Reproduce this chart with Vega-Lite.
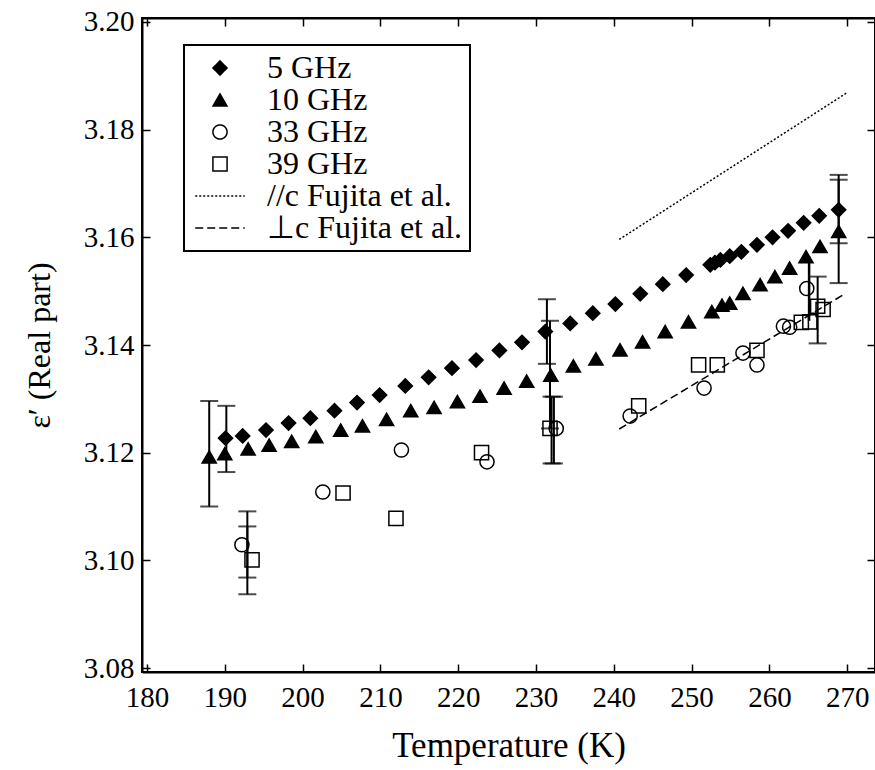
{
  "$schema": "https://vega.github.io/schema/vega-lite/v6.json",
  "width": 733,
  "height": 654,
  "autosize": {"type": "none"},
  "padding": {"left": 142, "top": 18, "right": 0, "bottom": 98},
  "background": "white",
  "datasets": {
    "pts": [
      {"series": "5 GHz", "T": 190.1, "v": 3.1227},
      {"series": "5 GHz", "T": 192.3, "v": 3.1231},
      {"series": "5 GHz", "T": 195.3, "v": 3.1242},
      {"series": "5 GHz", "T": 198.2, "v": 3.1255},
      {"series": "5 GHz", "T": 201.0, "v": 3.1264},
      {"series": "5 GHz", "T": 204.1, "v": 3.1278},
      {"series": "5 GHz", "T": 207.0, "v": 3.1293},
      {"series": "5 GHz", "T": 209.9, "v": 3.1307},
      {"series": "5 GHz", "T": 213.2, "v": 3.1324},
      {"series": "5 GHz", "T": 216.2, "v": 3.1340},
      {"series": "5 GHz", "T": 219.2, "v": 3.1357},
      {"series": "5 GHz", "T": 222.3, "v": 3.1372},
      {"series": "5 GHz", "T": 225.3, "v": 3.1390},
      {"series": "5 GHz", "T": 228.2, "v": 3.1405},
      {"series": "5 GHz", "T": 231.2, "v": 3.1425},
      {"series": "5 GHz", "T": 234.4, "v": 3.1440},
      {"series": "5 GHz", "T": 237.3, "v": 3.1459},
      {"series": "5 GHz", "T": 240.2, "v": 3.1476},
      {"series": "5 GHz", "T": 243.4, "v": 3.1495},
      {"series": "5 GHz", "T": 246.3, "v": 3.1513},
      {"series": "5 GHz", "T": 249.3, "v": 3.1530},
      {"series": "5 GHz", "T": 252.4, "v": 3.1549},
      {"series": "5 GHz", "T": 253.0, "v": 3.1553},
      {"series": "5 GHz", "T": 253.7, "v": 3.1558},
      {"series": "5 GHz", "T": 254.9, "v": 3.1565},
      {"series": "5 GHz", "T": 256.4, "v": 3.1573},
      {"series": "5 GHz", "T": 258.4, "v": 3.1586},
      {"series": "5 GHz", "T": 260.4, "v": 3.1600},
      {"series": "5 GHz", "T": 262.4, "v": 3.1612},
      {"series": "5 GHz", "T": 264.4, "v": 3.1627},
      {"series": "5 GHz", "T": 266.4, "v": 3.1640},
      {"series": "5 GHz", "T": 268.9, "v": 3.1651},
      {"series": "10 GHz", "T": 188.0, "v": 3.1192},
      {"series": "10 GHz", "T": 190.0, "v": 3.1198},
      {"series": "10 GHz", "T": 193.0, "v": 3.1207},
      {"series": "10 GHz", "T": 195.7, "v": 3.1214},
      {"series": "10 GHz", "T": 198.6, "v": 3.1221},
      {"series": "10 GHz", "T": 201.7, "v": 3.1230},
      {"series": "10 GHz", "T": 204.9, "v": 3.1242},
      {"series": "10 GHz", "T": 207.7, "v": 3.1250},
      {"series": "10 GHz", "T": 210.8, "v": 3.1262},
      {"series": "10 GHz", "T": 213.9, "v": 3.1278},
      {"series": "10 GHz", "T": 216.9, "v": 3.1284},
      {"series": "10 GHz", "T": 219.9, "v": 3.1295},
      {"series": "10 GHz", "T": 222.8, "v": 3.1305},
      {"series": "10 GHz", "T": 225.9, "v": 3.1320},
      {"series": "10 GHz", "T": 228.8, "v": 3.1333},
      {"series": "10 GHz", "T": 231.9, "v": 3.1344},
      {"series": "10 GHz", "T": 234.8, "v": 3.1361},
      {"series": "10 GHz", "T": 237.7, "v": 3.1374},
      {"series": "10 GHz", "T": 240.8, "v": 3.1391},
      {"series": "10 GHz", "T": 243.7, "v": 3.1406},
      {"series": "10 GHz", "T": 246.6, "v": 3.1425},
      {"series": "10 GHz", "T": 249.6, "v": 3.1443},
      {"series": "10 GHz", "T": 252.6, "v": 3.1462},
      {"series": "10 GHz", "T": 253.9, "v": 3.1474},
      {"series": "10 GHz", "T": 254.9, "v": 3.1478},
      {"series": "10 GHz", "T": 256.6, "v": 3.1496},
      {"series": "10 GHz", "T": 258.8, "v": 3.1512},
      {"series": "10 GHz", "T": 260.7, "v": 3.1527},
      {"series": "10 GHz", "T": 262.6, "v": 3.1543},
      {"series": "10 GHz", "T": 264.7, "v": 3.1564},
      {"series": "10 GHz", "T": 266.5, "v": 3.1583},
      {"series": "10 GHz", "T": 268.9, "v": 3.1611},
      {"series": "33 GHz", "T": 192.2, "v": 3.1029},
      {"series": "33 GHz", "T": 202.6, "v": 3.1127},
      {"series": "33 GHz", "T": 212.7, "v": 3.1205},
      {"series": "33 GHz", "T": 223.7, "v": 3.1183},
      {"series": "33 GHz", "T": 232.6, "v": 3.1245},
      {"series": "33 GHz", "T": 242.1, "v": 3.1268},
      {"series": "33 GHz", "T": 251.6, "v": 3.1320},
      {"series": "33 GHz", "T": 256.6, "v": 3.1385},
      {"series": "33 GHz", "T": 258.4, "v": 3.1363},
      {"series": "33 GHz", "T": 261.8, "v": 3.1435},
      {"series": "33 GHz", "T": 262.6, "v": 3.1433},
      {"series": "33 GHz", "T": 264.8, "v": 3.1505},
      {"series": "39 GHz", "T": 193.5, "v": 3.1001},
      {"series": "39 GHz", "T": 205.2, "v": 3.1125},
      {"series": "39 GHz", "T": 212.0, "v": 3.1078},
      {"series": "39 GHz", "T": 223.0, "v": 3.1200},
      {"series": "39 GHz", "T": 231.8, "v": 3.1245},
      {"series": "39 GHz", "T": 243.2, "v": 3.1287},
      {"series": "39 GHz", "T": 250.9, "v": 3.1363},
      {"series": "39 GHz", "T": 253.3, "v": 3.1363},
      {"series": "39 GHz", "T": 258.4, "v": 3.1390},
      {"series": "39 GHz", "T": 264.1, "v": 3.1442},
      {"series": "39 GHz", "T": 265.2, "v": 3.1443},
      {"series": "39 GHz", "T": 266.2, "v": 3.1472},
      {"series": "39 GHz", "T": 266.9, "v": 3.1466}
    ],
    "fujita": [
      {"series": "//c Fujita et al.", "T": 240.7, "v": 3.1596},
      {"series": "//c Fujita et al.", "T": 269.9, "v": 3.1868},
      {"series": "⊥c Fujita et al.", "T": 240.7, "v": 3.1244},
      {"series": "⊥c Fujita et al.", "T": 269.7, "v": 3.1495}
    ],
    "errs": [
      {"T": 188.0, "lo": 3.1100, "hi": 3.1296},
      {"T": 190.2, "lo": 3.1164, "hi": 3.1287},
      {"T": 192.9, "lo": 3.0968, "hi": 3.1091},
      {"T": 192.9, "lo": 3.0937, "hi": 3.1063},
      {"T": 231.4, "lo": 3.1365, "hi": 3.1485},
      {"T": 231.8, "lo": 3.1245, "hi": 3.1445},
      {"T": 232.0, "lo": 3.1180, "hi": 3.1304},
      {"T": 232.3, "lo": 3.1180, "hi": 3.1304},
      {"T": 266.2, "lo": 3.1403, "hi": 3.1527},
      {"T": 268.9, "lo": 3.1589, "hi": 3.1716},
      {"T": 268.9, "lo": 3.1515, "hi": 3.1707}
    ],
    "errsNoCap": [
      {"T": 265.1, "lo": 3.1445, "hi": 3.1565}
    ]
  },
  "layer": [
    {
      "data": {"name": "fujita"},
      "mark": {"type": "line", "color": "black"},
      "encoding": {
        "x": {"field": "T", "type": "quantitative",
              "scale": {"domain": [179.36, 273.57], "nice": false, "zero": false},
              "axis": {"orient": "top", "labels": false, "title": null, "values": [180, 190, 200, 210, 220, 230, 240, 250, 260, 270], "tickSize": -8, "grid": false}},
        "y": {"field": "v", "type": "quantitative",
              "scale": {"domain": [3.07926, 3.20074], "nice": false, "zero": false},
              "axis": {"orient": "right", "labels": false, "title": null, "values": [3.08, 3.10, 3.12, 3.14, 3.16, 3.18, 3.20], "tickSize": -8, "grid": false}},
        "strokeDash": {"field": "series", "type": "nominal",
              "scale": {"domain": ["5 GHz", "10 GHz", "33 GHz", "39 GHz", "//c Fujita et al.", "⊥c Fujita et al."],
                        "range": [[1, 0], [1, 0], [1, 0], [1, 0], [2, 2], [8, 4]]},
              "legend": {"title": null, "labelFont": "Liberation Serif", "labelFontSize": 32, "labelOffset": 31, "symbolOffset": 13,
                "encode": {"symbols": {"stroke": {"value": "black"}, "opacity": {"value": 1}}}}},
        "strokeWidth": {"field": "series", "type": "nominal",
              "scale": {"domain": ["5 GHz", "10 GHz", "33 GHz", "39 GHz", "//c Fujita et al.", "⊥c Fujita et al."],
                        "range": [1.5, 1.5, 1.5, 1.5, 1.2, 2]},
              "legend": {"title": null, "labelFont": "Liberation Serif", "labelFontSize": 32, "labelOffset": 31, "symbolOffset": 13,
                "encode": {"symbols": {"stroke": {"value": "black"}, "opacity": {"value": 1}}}}}
      }
    },
    {
      "data": {"name": "errs"},
      "mark": {"type": "errorbar", "ticks": {"size": 18, "thickness": 2}, "rule": {"strokeWidth": 2}, "color": "black"},
      "encoding": {
        "x": {"field": "T", "type": "quantitative", "scale": {"domain": [179.36, 273.57], "nice": false, "zero": false}, "axis": null},
        "y": {"field": "lo", "type": "quantitative", "scale": {"domain": [3.07926, 3.20074], "nice": false, "zero": false}, "axis": null},
        "y2": {"field": "hi"}
      }
    },
    {
      "data": {"name": "errsNoCap"},
      "mark": {"type": "rule", "color": "black", "strokeWidth": 2.5},
      "encoding": {
        "x": {"field": "T", "type": "quantitative", "scale": {"domain": [179.36, 273.57], "nice": false, "zero": false}, "axis": null},
        "y": {"field": "lo", "type": "quantitative", "scale": {"domain": [3.07926, 3.20074], "nice": false, "zero": false}, "axis": null},
        "y2": {"field": "hi"}
      }
    },
    {
      "data": {"name": "pts"},
      "mark": {"type": "point", "filled": true, "stroke": "black", "strokeWidth": 1.5, "opacity": 1},
      "encoding": {
        "x": {"field": "T", "type": "quantitative",
              "scale": {"domain": [179.36, 273.57], "nice": false, "zero": false},
              "axis": {"orient": "bottom", "title": "Temperature (K)", "titleFont": "Liberation Serif", "titleFontSize": 35, "labelFont": "Liberation Serif", "labelFontSize": 29, "values": [180, 190, 200, 210, 220, 230, 240, 250, 260, 270], "tickSize": -8, "labelPadding": 19, "titlePadding": 16, "grid": false}},
        "y": {"field": "v", "type": "quantitative",
              "scale": {"domain": [3.07926, 3.20074], "nice": false, "zero": false},
              "axis": {"orient": "left", "title": "ε′ (Real part)", "titleFont": "Liberation Serif", "titleFontSize": 32, "labelFont": "Liberation Serif", "labelFontSize": 29, "values": [3.08, 3.10, 3.12, 3.14, 3.16, 3.18, 3.20], "format": ".2f", "tickSize": -8, "labelPadding": 16, "titlePadding": 27, "grid": false}},
        "shape": {"field": "series", "type": "nominal",
              "scale": {"domain": ["5 GHz", "10 GHz", "33 GHz", "39 GHz", "//c Fujita et al.", "⊥c Fujita et al."],
                        "range": ["diamond", "triangle-up", "circle", "square", "M-3.5,0L3.5,0", "M-3.5,0L3.5,0"]},
              "legend": {"title": null, "labelFont": "Liberation Serif", "labelFontSize": 32, "labelOffset": 31, "symbolOffset": 13,
                "encode": {"symbols": {"stroke": {"value": "black"}, "opacity": {"value": 1}}}}},
        "fill": {"field": "series", "type": "nominal",
              "scale": {"domain": ["5 GHz", "10 GHz", "33 GHz", "39 GHz", "//c Fujita et al.", "⊥c Fujita et al."],
                        "range": ["black", "black", "transparent", "transparent", "transparent", "transparent"]},
              "legend": {"title": null, "labelFont": "Liberation Serif", "labelFontSize": 32, "labelOffset": 31, "symbolOffset": 13,
                "encode": {"symbols": {"stroke": {"value": "black"}, "opacity": {"value": 1}}}}},
        "size": {"field": "series", "type": "nominal",
              "scale": {"domain": ["5 GHz", "10 GHz", "33 GHz", "39 GHz", "//c Fujita et al.", "⊥c Fujita et al."],
                        "range": [200, 200, 150, 150, 2800, 2800]},
              "legend": {"title": null, "labelFont": "Liberation Serif", "labelFontSize": 32, "labelOffset": 31, "symbolOffset": 13,
                "encode": {"symbols": {"stroke": {"value": "black"}, "opacity": {"value": 1}}}}}
      }
    }
  ],
  "resolve": {"axis": {"x": "independent", "y": "independent"}},
  "config": {
    "view": {"stroke": "black", "strokeWidth": 2},
    "font": "Liberation Serif",
    "axis": {
      "domainColor": "black", "domainWidth": 2, "tickColor": "black", "tickWidth": 1.5,
      "labelColor": "black", "labelFont": "Liberation Serif", "labelFontSize": 29,
      "titleColor": "black", "titleFont": "Liberation Serif", "titleFontSize": 32, "titleFontWeight": "normal",
      "labelOverlap": false, "labelFlush": false
    },
    "legend": {
      "orient": "none", "legendX": 42, "legendY": 27,
      "strokeColor": "black", "strokeWidth": 2, "fillColor": "white",
      "padding": 7, "symbolSize": 2800, "symbolOffset": 13,
      "labelFont": "Liberation Serif", "labelFontSize": 32, "labelColor": "black",
      "labelOffset": 31, "labelLimit": 400, "rowPadding": 0
    }
  }
}
